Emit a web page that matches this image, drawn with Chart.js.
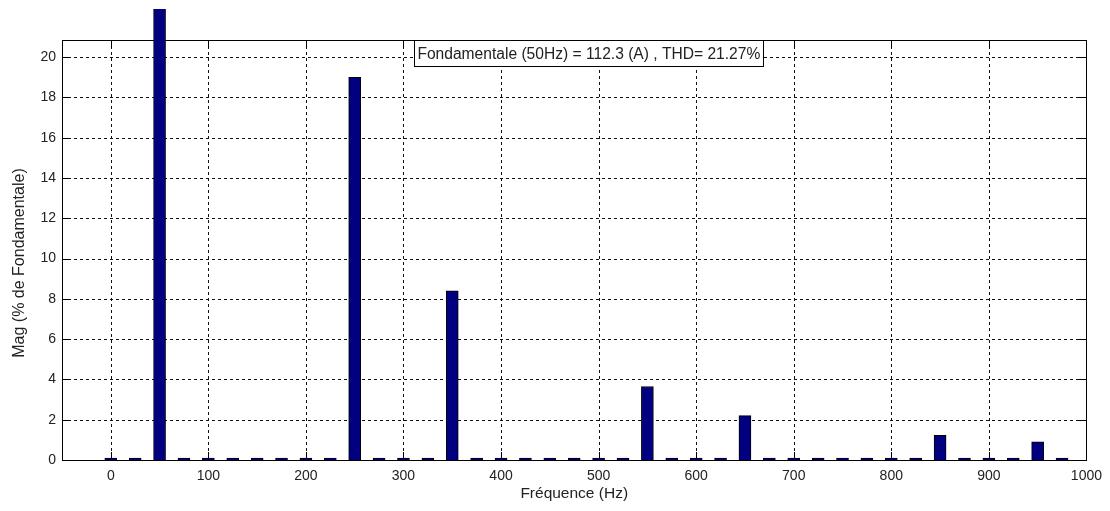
<!DOCTYPE html>
<html>
<head>
<meta charset="utf-8">
<script src="https://cdn.jsdelivr.net/npm/chart.js@4"></script>
<style>
html,body{margin:0;padding:0;background:#fff;}
canvas{display:block;}
</style>
</head>
<body>
<canvas id="c" width="1110" height="511"></canvas>
<script>
const freqs = [0,25,50,75,100,125,150,175,200,225,250,275,300,325,350,375,400,425,450,475,500,525,550,575,600,625,650,675,700,725,750,775,800,825,850,875,900,925,950,975];
const mags  = [0.1,0.1,100,0.1,0.1,0.1,0.1,0.1,0.1,0.1,19.0,0.1,0.1,0.1,8.4,0.1,0.1,0.1,0.1,0.1,0.1,0.1,3.65,0.1,0.1,0.1,2.2,0.1,0.1,0.1,0.1,0.1,0.1,0.1,1.22,0.1,0.1,0.1,0.9,0.1];
const xTicks = [0,100,200,300,400,500,600,700,800,900,1000];
const yTicks = [0,2,4,6,8,10,12,14,16,18,20];
const xTitle = 'Fréquence (Hz)';
const yTitle = 'Mag (% de Fondamentale)';
const annText = 'Fondamentale (50Hz) = 112.3 (A) , THD= 21.27%';
const annCenterX = 490;

const TXT = '#222';
const FONT = '"Liberation Sans", Arial, sans-serif';

const axesPlugin = {
  id: 'matlabAxes',
  beforeDatasetsDraw(chart) {
    const {ctx, chartArea: a, scales: {x, y}} = chart;
    ctx.save();
    ctx.strokeStyle = '#111';
    ctx.lineWidth = 1;
    ctx.setLineDash([3, 3]);
    ctx.beginPath();
    xTicks.forEach(v => {
      const px = Math.round(x.getPixelForValue(v)) + 0.5;
      if (px <= a.left + 1 || px >= a.right - 1) return;
      ctx.moveTo(px, a.top); ctx.lineTo(px, a.bottom);
    });
    yTicks.forEach(v => {
      const py = Math.round(y.getPixelForValue(v)) + 0.5;
      if (py <= a.top + 1 || py >= a.bottom - 1) return;
      ctx.moveTo(a.left, py); ctx.lineTo(a.right, py);
    });
    ctx.stroke();
    ctx.setLineDash([]);
    ctx.strokeStyle = '#000';
    ctx.strokeRect(Math.round(a.left) + 0.5, Math.round(a.top) + 0.5,
                   Math.round(a.right - a.left), Math.round(a.bottom - a.top));
    const tl = 8;
    ctx.beginPath();
    xTicks.forEach(v => {
      const px = Math.round(x.getPixelForValue(v)) + 0.5;
      ctx.moveTo(px, a.bottom); ctx.lineTo(px, a.bottom - tl);
      ctx.moveTo(px, a.top); ctx.lineTo(px, a.top + tl);
    });
    yTicks.forEach(v => {
      const py = Math.round(y.getPixelForValue(v)) + 0.5;
      ctx.moveTo(a.left, py); ctx.lineTo(a.left + tl, py);
      ctx.moveTo(a.right, py); ctx.lineTo(a.right - tl, py);
    });
    ctx.stroke();
    ctx.restore();
  },
  afterDraw(chart) {
    const {ctx, chartArea: a, scales: {x}} = chart;
    ctx.save();
    ctx.font = '15.6px ' + FONT;
    const w = ctx.measureText(annText).width;
    const cx = x.getPixelForValue(annCenterX);
    const bx = Math.round(cx - w / 2 - 3) + 0.5;
    const by = Math.round(a.top) + 0.5;
    const bw = Math.round(w + 6);
    const bh = 26;
    ctx.fillStyle = '#fff';
    ctx.fillRect(bx, by, bw, bh);
    ctx.strokeStyle = '#000';
    ctx.lineWidth = 1;
    ctx.strokeRect(bx, by, bw, bh);
    ctx.fillStyle = TXT;
    ctx.textAlign = 'center';
    ctx.textBaseline = 'middle';
    ctx.fillText(annText, cx, by + bh / 2 + 1);
    // y axis title
    ctx.font = '16px ' + FONT;
    ctx.translate(20, (a.top + a.bottom) / 2 + 13);
    ctx.rotate(-Math.PI / 2);
    ctx.fillText(yTitle, 0, 0);
    ctx.restore();
  }
};

new Chart(document.getElementById('c'), {
  type: 'bar',
  data: {
    datasets: [{
      data: freqs.map((f, i) => ({x: f, y: mags[i]})),
      backgroundColor: '#000080',
      borderColor: '#000',
      borderWidth: 1,
      barThickness: 12,
      clip: {left: 0, right: 0, bottom: 5, top: 31}
    }]
  },
  options: {
    responsive: false,
    animation: false,
    devicePixelRatio: 1,
    layout: {padding: {top: 40, right: 22, left: 0, bottom: 0}},
    plugins: {legend: {display: false}, tooltip: {enabled: false}},
    scales: {
      x: {
        type: 'linear',
        offset: false,
        min: -50, max: 1000,
        afterBuildTicks: s => { s.ticks = xTicks.map(v => ({value: v})); },
        afterFit: s => { s.height = 51; },
        grid: {display: false, drawTicks: false, offset: false},
        border: {display: false},
        ticks: {color: TXT, font: {family: FONT, size: 14}, padding: 8, maxRotation: 0, autoSkip: false,
                callback: v => String(v)},
        title: {display: true, text: xTitle, color: TXT, font: {family: FONT, size: 15.5}, padding: {top: 0, bottom: 8}}
      },
      y: {
        min: 0, max: 20.85,
        afterBuildTicks: s => { s.ticks = yTicks.map(v => ({value: v})); },
        afterFit: s => { s.width = 62; },
        grid: {display: false, drawTicks: false},
        border: {display: false},
        ticks: {color: TXT, font: {family: FONT, size: 14}, padding: 6, autoSkip: false,
                callback: v => String(v)},
        title: {display: false, text: yTitle}
      }
    }
  },
  plugins: [axesPlugin]
});
</script>
</body>
</html>
